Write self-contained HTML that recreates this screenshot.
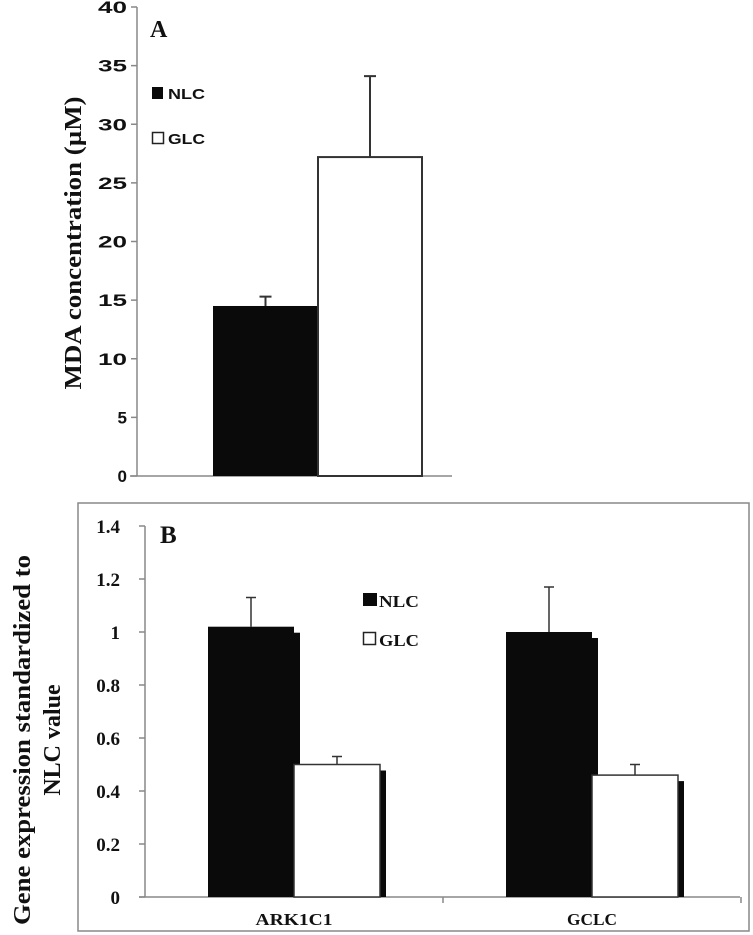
<!DOCTYPE html>
<html><head><meta charset="utf-8"><style>
html,body{margin:0;padding:0;background:#fff;}
svg{display:block;}
text{font-family:"Liberation Sans",sans-serif;font-weight:bold;fill:#111;}
.serif{font-family:"Liberation Serif",serif;}
</style></head><body>
<svg id="chart" width="753" height="935" viewBox="0 0 753 935" xmlns="http://www.w3.org/2000/svg">
<g id="pa"></g>
<g id="pb"></g>
</svg>
<script>
// Panel A data
const aSeries = ["NLC","GLC"];
const aValues = [14.5, 27.2];
const aErrors = [0.8, 6.9];
const aTicks = [0,5,10,15,20,25,30,35,40];
// Panel B data
const bCategories = ["ARK1C1","GCLC"];
const bNLC = [1.02, 1.0];
const bNLCerr = [0.11, 0.17];
const bGLC = [0.50, 0.46];
const bGLCerr = [0.03, 0.04];
const bTicks = ["0","0.2","0.4","0.6","0.8","1","1.2","1.4"];

const NS="http://www.w3.org/2000/svg";
function mk(parent,tag,attrs,txt){const e=document.createElementNS(NS,tag);for(const k in attrs)e.setAttribute(k,attrs[k]);if(txt!==undefined)e.textContent=txt;parent.appendChild(e);return e;}

// ---------- Panel A ----------
const pa=document.getElementById('pa');
const ayA=v=>476-(v/40)*469;
let e;
e=mk(pa,'line',{x1:137,y1:7,x2:137,y2:476,stroke:'#888','stroke-width':1.5});


e=mk(pa,'line',{x1:130,y1:476,x2:452,y2:476,stroke:'#888','stroke-width':1.5});


aTicks.forEach(t=>{
  const y=ayA(t);
  e=mk(pa,'line',{x1:131,y1:y,x2:137,y2:y,stroke:'#888','stroke-width':1.5});
  
  
  const attrs={x:127,y:y+6,'text-anchor':'end','font-size':17};
  if(String(t).length==2){attrs.textLength=29;attrs.lengthAdjust='spacingAndGlyphs';}
  e=mk(pa,'text',attrs,String(t));
  
  
});
const aX=[213,318], aW=[105,104];
aValues.forEach((v,i)=>{
  const top=ayA(v);
  e=mk(pa,'rect',{x:aX[i],y:top,width:aW[i],height:476-top,fill:i==0?'#0a0a0a':'#fff',stroke:'#333','stroke-width':i==0?0:2});
  
  
  const cx=aX[i]+aW[i]/2, ey=ayA(v+aErrors[i]);
  e=mk(pa,'path',{d:`M${cx},${top} V${ey} M${cx-6},${ey} H${cx+6}`,stroke:'#333','stroke-width':2,fill:'none'});
  
  
});
e=mk(pa,'text',{x:150,y:37,'font-size':24,class:'serif'},'A');


e=mk(pa,'rect',{x:152,y:87,width:11,height:12,fill:'#0a0a0a'});


e=mk(pa,'text',{x:168,y:99,'font-size':15,textLength:37,lengthAdjust:'spacingAndGlyphs'},'NLC');


e=mk(pa,'rect',{x:152.5,y:132.5,width:11,height:11,fill:'#fff',stroke:'#222','stroke-width':1.5});


e=mk(pa,'text',{x:168,y:144,'font-size':15,textLength:37,lengthAdjust:'spacingAndGlyphs'},'GLC');


e=mk(pa,'text',{x:0,y:0,'font-size':24,class:'serif','text-anchor':'middle',textLength:293,lengthAdjust:'spacingAndGlyphs',transform:'translate(81,243) rotate(-90)'},'MDA concentration (\u00B5M)');



// ---------- Panel B ----------
const pb=document.getElementById('pb');
const ayB=v=>897-(v/1.4)*371;
e=mk(pb,'rect',{x:78,y:503,width:671,height:428,fill:'none',stroke:'#888','stroke-width':1.5});


e=mk(pb,'line',{x1:145,y1:526,x2:145,y2:897,stroke:'#888','stroke-width':1.5});


e=mk(pb,'line',{x1:139,y1:897,x2:740,y2:897,stroke:'#888','stroke-width':1.5});


bTicks.forEach(t=>{
  const y=ayB(parseFloat(t));
  e=mk(pb,'line',{x1:139,y1:y,x2:145,y2:y,stroke:'#888','stroke-width':1.5});
  
  
  e=mk(pb,'text',{x:120,y:y+7,'text-anchor':'end','font-size':19,class:'serif'},t);
  
  
});
const bx0=145, bStep=298;
[1,2].forEach(k=>{
  const x=bx0+k*bStep;
  e=mk(pb,'line',{x1:x,y1:897,x2:x,y2:903,stroke:'#888','stroke-width':1.5});
  
  
});
const bLabelW=[77,50];
bCategories.forEach((c,i)=>{
  const cx=bx0+bStep*(i+0.5);
  const bw=86;
  [[bNLC,bNLCerr,'#0a0a0a','nlc',cx-bw],[bGLC,bGLCerr,'#fff','glc',cx]].forEach(([vals,errs,fill,nm,x])=>{
    const top=ayB(vals[i]);
    e=mk(pb,'rect',{x:x+bw,y:top+6,width:6,height:897-top-6,fill:'#0a0a0a'});
    
    
    e=mk(pb,'rect',{x:x,y:top,width:bw,height:897-top,fill:fill,stroke:fill=='#fff'?'#333':'none','stroke-width':1.5});
    
    
    const ex=x+bw/2, ey=ayB(vals[i]+errs[i]);
    e=mk(pb,'path',{d:`M${ex},${top} V${ey} M${ex-5},${ey} H${ex+5}`,stroke:'#333','stroke-width':1.5,fill:'none'});
    
    
  });
  e=mk(pb,'text',{x:cx,y:925,'text-anchor':'middle','font-size':17,class:'serif',textLength:bLabelW[i],lengthAdjust:'spacingAndGlyphs'},c);
  
  
});
e=mk(pb,'text',{x:160,y:543,'font-size':25,class:'serif'},'B');


e=mk(pb,'rect',{x:363,y:593,width:14,height:13,fill:'#0a0a0a'});


e=mk(pb,'text',{x:379,y:607,'font-size':17,class:'serif',textLength:40,lengthAdjust:'spacingAndGlyphs'},'NLC');


e=mk(pb,'rect',{x:363.5,y:632.5,width:12,height:12,fill:'#fff',stroke:'#222','stroke-width':1.5});


e=mk(pb,'text',{x:379,y:646,'font-size':17,class:'serif',textLength:40,lengthAdjust:'spacingAndGlyphs'},'GLC');


e=mk(pb,'text',{x:0,y:0,'font-size':24,class:'serif','text-anchor':'middle',textLength:370,lengthAdjust:'spacingAndGlyphs',transform:'translate(30,740) rotate(-90)'},'Gene expression standardized to');


e=mk(pb,'text',{x:0,y:0,'font-size':24,class:'serif','text-anchor':'middle',transform:'translate(60,740) rotate(-90)'},'NLC value');


</script>
</body></html>
